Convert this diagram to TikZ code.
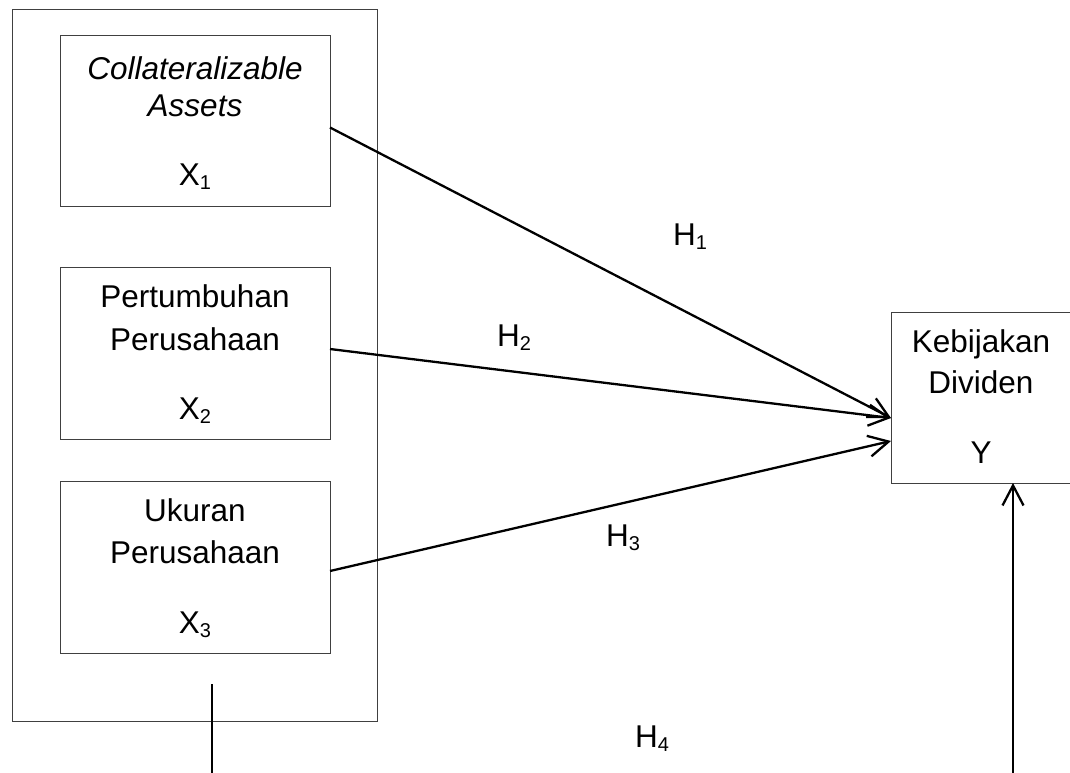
\documentclass[tikz,border=0pt]{standalone}
\usepackage{fontspec}
\setmainfont{Liberation Sans}
\usetikzlibrary{arrows.meta,calc}
\newcommand\lowsub[1]{\raisebox{-4pt}{\fontsize{20}{20}\selectfont #1}}
\begin{document}
\begin{tikzpicture}[x=1pt,y=-1pt,
  box/.style={draw=black!75, line width=1pt, inner sep=0pt, outer sep=0pt, anchor=north west},
  lbl/.style={anchor=base, inner sep=0pt, font=\fontsize{31.5}{37}\selectfont},
  conn/.style={line width=2.3pt, -{Straight Barb[length=20pt,width=21pt,line width=2.3pt]}},
  plain/.style={line width=2.3pt},
]
\useasboundingbox (0,0) rectangle (1070,772);
\clip (0,0) rectangle (1070,772);
\node[box, minimum width=365pt, minimum height=712pt] (grp) at (12,9) {};
\node[box, minimum width=270pt, minimum height=171pt] (b1) at (60,35) {};
\node[box, minimum width=270pt, minimum height=172pt] (b2) at (60,267) {};
\node[box, minimum width=270pt, minimum height=172pt] (b3) at (60,481) {};
\node[box, minimum width=196pt, minimum height=171pt] (yv) at (891,312) {};

\node[lbl] (t1a) at (195,79) {\itshape Collateralizable};
\node[lbl] (t1b) at (195,116) {\itshape Assets};
\node[lbl] (t1c) at (195,185) {X\lowsub{1}};

\node[lbl] (t2a) at (195,307) {Pertumbuhan};
\node[lbl] (t2b) at (195,350) {Perusahaan};
\node[lbl] (t2c) at (195,419) {X\lowsub{2}};

\node[lbl] (t3a) at (195,521) {Ukuran};
\node[lbl] (t3b) at (195,563) {Perusahaan};
\node[lbl] (t3c) at (195,633) {X\lowsub{3}};

\node[lbl] (tya) at (981,352) {Kebijakan};
\node[lbl] (tyb) at (981,393) {Dividen};
\node[lbl] (tyc) at (981,463) {Y};

\node[lbl] (h1) at (690,245) {H\lowsub{1}};
\node[lbl] (h2) at (514,346) {H\lowsub{2}};
\node[lbl] (h3) at (623,546) {H\lowsub{3}};
\node[lbl] (h4) at (652,747) {H\lowsub{4}};

\coordinate (s1) at ($(b1.east)+(0,7)$);
\coordinate (s2) at ($(b2.east)+(0,-4)$);
\coordinate (s3) at ($(b3.east)+(0,4)$);
\coordinate (e12) at ($(yv.west)+(0,20.5)$);
\coordinate (e3) at ($(yv.west)+(0,43.5)$);
\coordinate (ys) at ($(yv.south west)+(122,0)$);
\coordinate (yb) at ($(ys)+(0,295)$);
\coordinate (gl) at (212,684);
\coordinate (glb) at (212,780);

\draw[conn] (s1) -- (e12);
\draw[conn] (s2) -- (e12);
\draw[conn] (s3) -- (e3);
\draw[conn] (yb) -- (ys);
\draw[plain] (gl) -- (glb);
\end{tikzpicture}
\end{document}
